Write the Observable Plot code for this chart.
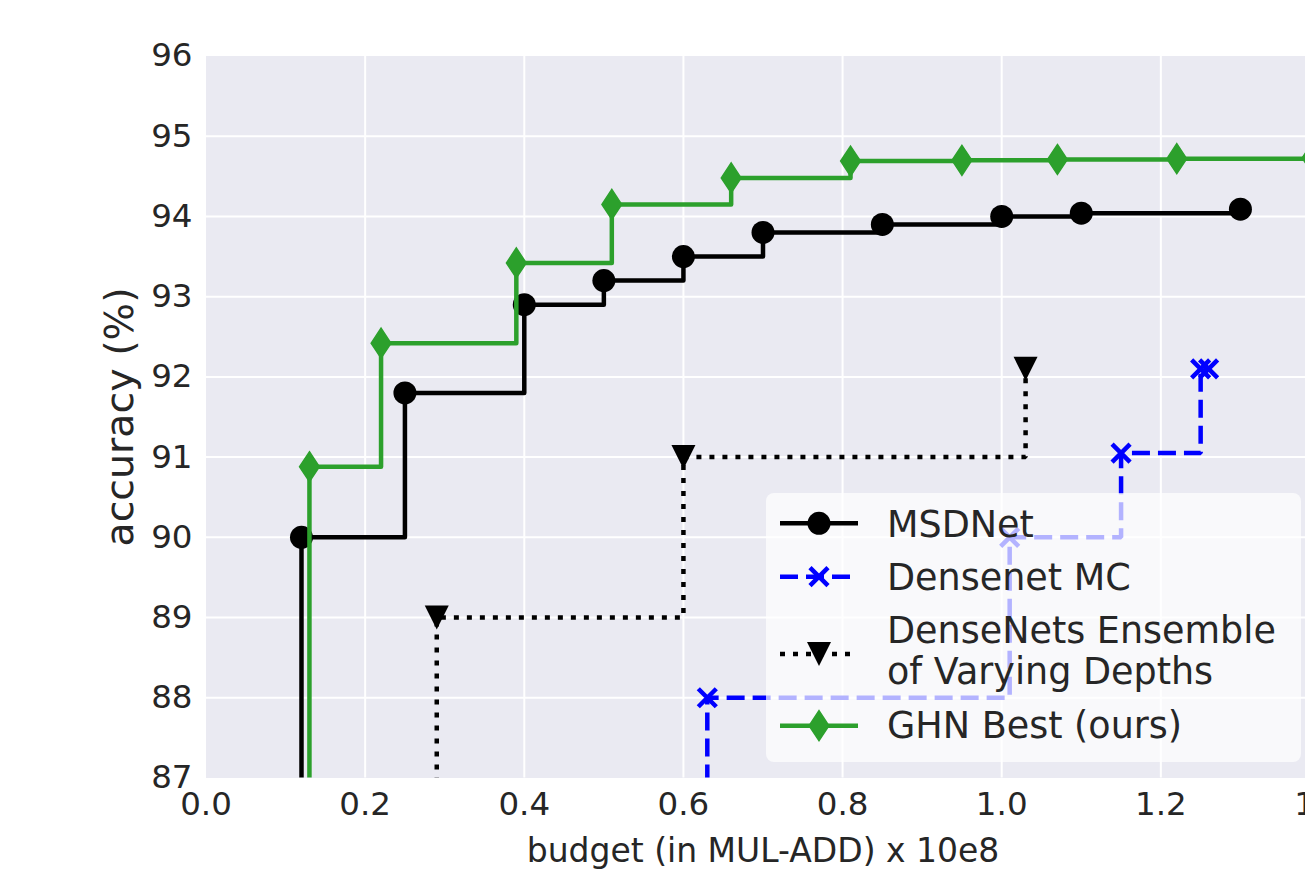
<!DOCTYPE html>
<html><head><meta charset="utf-8">
<script src="https://cdn.jsdelivr.net/npm/d3@7"></script>
<script src="https://cdn.jsdelivr.net/npm/@observablehq/plot@0.6"></script>
<style>
html,body{margin:0;padding:0;background:#fff;overflow:hidden;width:1305px;height:872px;}
#wrap{position:relative;width:1305px;height:872px;overflow:hidden;}
#chart svg{max-width:none !important;width:1340px !important;height:872px !important;display:block;}
#legend{position:absolute;left:766px;top:493px;width:535px;height:269px;background:rgba(255,255,255,0.7);border-radius:8px;}
#legend svg{position:absolute;left:0;top:0;overflow:visible;}
</style></head>
<body><div id="wrap"><div id="chart"></div><div id="legend"></div></div>
<script>
// ---- data ----
const seriesNames = ["MSDNet", "Densenet MC", "DenseNets Ensemble\nof Varying Depths", "GHN Best (ours)"];
const seriesColors = ["#000000", "#0000ff", "#000000", "#2ca02c"];

const msdnetBudget = [0.12, 0.12, 0.25, 0.40, 0.50, 0.60, 0.70, 0.85, 1.00, 1.10, 1.30];
const msdnetAcc    = [85.0, 90.0, 91.8, 92.9, 93.2, 93.5, 93.8, 93.9, 94.0, 94.04, 94.09];

const mcBudget = [0.63, 0.63, 1.01, 1.15, 1.25, 1.26];
const mcAcc    = [85.0, 88.0, 90.0, 91.05, 92.1, 92.1];

const ensBudget = [0.29, 0.29, 0.60, 1.03];
const ensAcc    = [85.0, 89.0, 91.0, 92.1];

const ghnBudget = [0.13, 0.13, 0.22, 0.39, 0.51, 0.66, 0.81, 0.95, 1.07, 1.22, 1.39];
const ghnAcc    = [85.0, 90.88, 92.42, 93.42, 94.15, 94.48, 94.69, 94.70, 94.71, 94.72, 94.73];

const xTicks = [0.0, 0.2, 0.4, 0.6, 0.8, 1.0, 1.2, 1.4];
const yTicks = [87, 88, 89, 90, 91, 92, 93, 94, 95, 96];
const xLabel = "budget (in MUL-ADD) x 10e8";
const yLabel = "accuracy (%)";

// ---- symbols ----
const rad = s => Math.sqrt(s / Math.PI);
const thinDiamond = {draw(c, s){const r = rad(s); c.moveTo(0,-r); c.lineTo(0.66*r,0); c.lineTo(0,r); c.lineTo(-0.66*r,0); c.closePath();}};
const triDown = {draw(c, s){const r = rad(s); c.moveTo(-r,-r); c.lineTo(r,-r); c.lineTo(0,r); c.closePath();}};
const xMark = {draw(c, s){const r = rad(s); c.moveTo(-r,-r); c.lineTo(r,r); c.moveTo(r,-r); c.lineTo(-r,r);}};

const toRows = (xs, ys) => xs.map((x, i) => ({x, y: ys[i]}));
const msd = toRows(msdnetBudget, msdnetAcc);
const mc = toRows(mcBudget, mcAcc);
const ens = toRows(ensBudget, ensAcc);
const ghn = toRows(ghnBudget, ghnAcc);

const LW = 4.5;
const FONT = "'DejaVu Sans', sans-serif";
const TXT = "#262626";

const chart = Plot.plot({
  width: 1340, height: 872,
  marginLeft: 205.5, marginRight: 20.5, marginTop: 55.5, marginBottom: 94.5,
  x: {domain: [0, 1.4]},
  y: {domain: [87, 96]},
  style: {fontFamily: FONT, color: TXT, background: "transparent", overflow: "visible", maxWidth: "none"},
  marks: [
    Plot.frame({fill: "#eaeaf2", stroke: null}),
    Plot.gridX(xTicks.slice(1, -1), {stroke: "#fff", strokeOpacity: 1, strokeWidth: 2}),
    Plot.gridY(yTicks.slice(1, -1), {stroke: "#fff", strokeOpacity: 1, strokeWidth: 2}),
    Plot.axisX(xTicks, {tickSize: 0, tickPadding: 14, fontSize: 32.5, fill: TXT, tickFormat: d => d.toFixed(1), label: null}),
    Plot.axisY(yTicks, {tickSize: 0, tickPadding: 13.5, fontSize: 32.5, fill: TXT, tickFormat: d => String(d), label: null}),

    Plot.line(msd, {x: "x", y: "y", curve: "step-after", stroke: seriesColors[0], strokeWidth: LW, strokeLinecap: "butt", strokeLinejoin: "round", clip: true}),
    Plot.dot(msd, {x: "x", y: "y", r: 11.5, fill: seriesColors[0], stroke: "none", clip: true}),

    Plot.line(mc, {x: "x", y: "y", curve: "step-after", stroke: seriesColors[1], strokeWidth: LW, strokeDasharray: "18,8", strokeLinecap: "butt", strokeLinejoin: "miter", clip: true}),
    Plot.dot(mc, {x: "x", y: "y", r: 9, symbol: xMark, fill: "none", stroke: seriesColors[1], strokeWidth: 4.5, clip: true}),

    Plot.line(ens, {x: "x", y: "y", curve: "step-after", stroke: seriesColors[2], strokeWidth: LW, strokeDasharray: "5,8", strokeLinecap: "butt", strokeLinejoin: "miter", clip: true}),
    Plot.dot(ens, {x: "x", y: "y", r: 12, symbol: triDown, fill: seriesColors[2], stroke: "none", clip: true}),

    Plot.line(ghn, {x: "x", y: "y", curve: "step-after", stroke: seriesColors[3], strokeWidth: LW, strokeLinecap: "butt", strokeLinejoin: "round", clip: true}),
    Plot.dot(ghn, {x: "x", y: "y", r: 15, symbol: thinDiamond, fill: seriesColors[3], stroke: seriesColors[3], strokeWidth: 1.5, clip: true}),

    Plot.text([xLabel], {text: d => d, frameAnchor: "bottom", textAnchor: "middle", lineAnchor: "middle", dy: 73.5, fontSize: 33, fill: TXT}),
    Plot.text([yLabel], {text: d => d, frameAnchor: "left", textAnchor: "middle", lineAnchor: "middle", dx: -86, rotate: -90, fontSize: 39.5, fill: TXT})
  ]
});
chart.style.maxWidth = "none";
document.getElementById("chart").appendChild(chart);

// ---- legend ----
const ns = "http://www.w3.org/2000/svg";
const lg = document.createElementNS(ns, "svg");
lg.setAttribute("width", 535); lg.setAttribute("height", 269);
lg.setAttribute("font-family", FONT);
const rowsY = [30.3, 83.7, 161, 232.7];
const baselines = [[43.7], [97], [150.3, 191], [245.3]];
const styles = [
  {dash: null, sym: d3.symbol(d3.symbolCircle, 11.5*11.5*Math.PI)(), fill: seriesColors[0], stroke: "none"},
  {dash: "18,8", sym: d3.symbol(xMark, 9*9*Math.PI)(), fill: "none", stroke: seriesColors[1]},
  {dash: "5,8", sym: d3.symbol(triDown, 12*12*Math.PI)(), fill: seriesColors[2], stroke: "none"},
  {dash: null, sym: d3.symbol(thinDiamond, 15*15*Math.PI)(), fill: seriesColors[3], stroke: seriesColors[3]}
];
seriesNames.forEach((name, i) => {
  const st = styles[i];
  const ln = document.createElementNS(ns, "line");
  ln.setAttribute("x1", 14); ln.setAttribute("x2", 92);
  ln.setAttribute("y1", rowsY[i]); ln.setAttribute("y2", rowsY[i]);
  ln.setAttribute("stroke", seriesColors[i]); ln.setAttribute("stroke-width", LW);
  if (st.dash) ln.setAttribute("stroke-dasharray", st.dash);
  lg.appendChild(ln);
  const p = document.createElementNS(ns, "path");
  p.setAttribute("d", st.sym);
  p.setAttribute("transform", `translate(53,${rowsY[i]})`);
  p.setAttribute("fill", st.fill);
  p.setAttribute("stroke", st.stroke);
  p.setAttribute("stroke-width", i === 1 ? 4.5 : 1.5);
  lg.appendChild(p);
  name.split("\n").forEach((line, j) => {
    const t = document.createElementNS(ns, "text");
    t.setAttribute("x", 121); t.setAttribute("y", baselines[i][j]);
    t.setAttribute("font-size", 36.5); t.setAttribute("fill", TXT);
    t.textContent = line;
    lg.appendChild(t);
  });
});
document.getElementById("legend").appendChild(lg);
</script>
</body></html>
